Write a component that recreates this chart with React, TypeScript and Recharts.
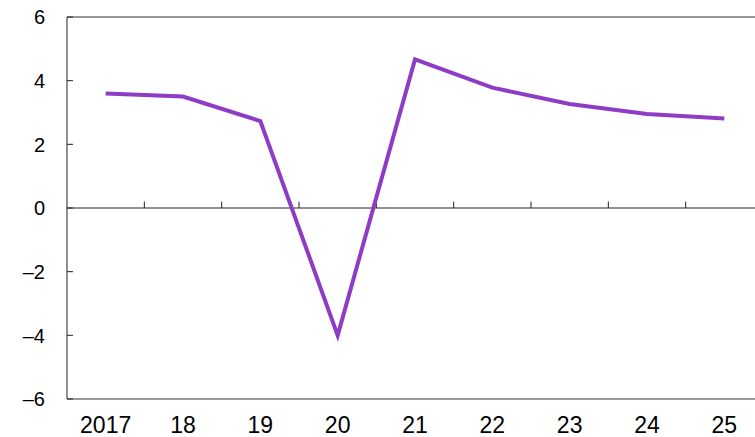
import React from "react";
import { LineChart, Line, XAxis, YAxis, ReferenceLine } from "recharts";

const categories = ["2017", "18", "19", "20", "21", "22", "23", "24", "25"];
const values = [3.6, 3.5, 2.73, -4.0, 4.67, 3.78, 3.27, 2.95, 2.81];
const yTicks = [-6, -4, -2, 0, 2, 4, 6];
const yTickLabels = ["–6", "–4", "–2", "0", "2", "4", "6"];
const boundaries = [0.5, 1.5, 2.5, 3.5, 4.5, 5.5, 6.5, 7.5];

const data = categories.map((c, i) => ({ x: i, label: c, v: values[i] }));
const FONT = "'Liberation Sans', Arial, sans-serif";

const YTick = (props: any) => {
  const { x, y, payload } = props;
  const idx = yTicks.indexOf(payload.value);
  return (
    <g>
      <line x1={x} x2={x + 6} y1={y} y2={y} stroke="#222" strokeWidth={1} />
      <text x={x - 22} y={y} dy="0.36em" textAnchor="end" fontSize={20} fill="#000" fontFamily={FONT}>
        {idx >= 0 ? yTickLabels[idx] : payload.value}
      </text>
    </g>
  );
};

export default function App() {
  return (
    <div
      style={{
        position: "fixed",
        top: 0,
        left: 0,
        width: 755,
        height: 437,
        overflow: "hidden",
        background: "#fff",
      }}
    >
      <LineChart width={780} height={437} data={data} margin={{ top: 17, right: 17, bottom: 0, left: 0 }}>
        <XAxis
          dataKey="x"
          type="number"
          domain={[-0.5, 8.5]}
          ticks={[0, 1, 2, 3, 4, 5, 6, 7, 8]}
          tickFormatter={(v: number) => categories[v]}
          height={38}
          tickSize={0}
          tickMargin={18}
          tickLine={false}
          axisLine={{ stroke: "#777", strokeWidth: 1.5 }}
          tick={{ fontSize: 23, fill: "#000", fontFamily: FONT }}
          allowDataOverflow
        />
        <YAxis
          domain={[-6, 6]}
          ticks={yTicks}
          width={67}
          tickSize={0}
          tickMargin={0}
          tickLine={false}
          axisLine={{ stroke: "#222", strokeWidth: 1 }}
          tick={<YTick />}
          interval={0}
        />
        <ReferenceLine y={6} stroke="#333" strokeWidth={1} />
        <ReferenceLine y={0} stroke="#222" strokeWidth={1} />
        {boundaries.map((b) => (
          <ReferenceLine
            key={b}
            segment={[{ x: b, y: 0 }, { x: b, y: 0.2 }]}
            stroke="#222"
            strokeWidth={1}
          />
        ))}
        <Line
          type="linear"
          dataKey="v"
          stroke="#8e3cc6"
          strokeWidth={4}
          dot={false}
          isAnimationActive={false}
        />
      </LineChart>
    </div>
  );
}
